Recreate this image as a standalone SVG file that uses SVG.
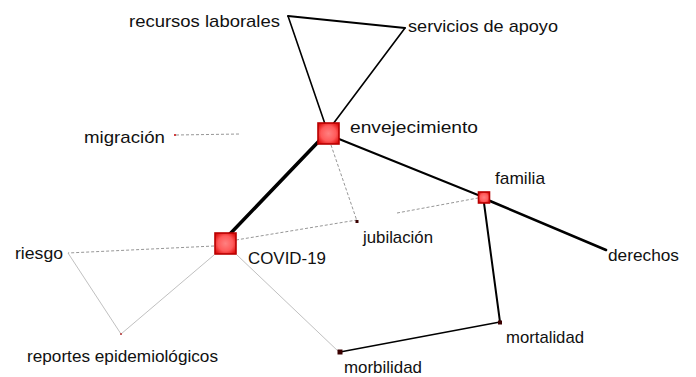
<svg xmlns="http://www.w3.org/2000/svg" width="696" height="377" viewBox="0 0 696 377">
<defs>
<radialGradient id="rg" cx="50%" cy="50%" r="60%">
<stop offset="0" stop-color="#ff8080"/>
<stop offset="0.6" stop-color="#ff5a5a"/>
<stop offset="1" stop-color="#e01010"/>
</radialGradient>
<style>
text{font-family:"Liberation Sans",Arial,sans-serif;font-size:17px;fill:#111}
.hub{fill:url(#rg);stroke:#b80000;stroke-width:1.6}
.dot{fill:#3a0000}
.e{fill:none;stroke:#000;stroke-linecap:round}
.f{fill:none;stroke:#8a8a8a;stroke-width:0.9;stroke-dasharray:3 2}
.f2{fill:none;stroke:#b0b0b0;stroke-width:0.8}
</style>
</defs>
<rect width="696" height="377" fill="#fff"/>
<g id="connectors">
<line class="e" x1="288" y1="16" x2="405" y2="28" stroke-width="1.8"/>
<line class="e" x1="288" y1="16" x2="325" y2="124" stroke-width="1.6"/>
<line class="e" x1="405" y1="28" x2="333" y2="124" stroke-width="1.6"/>
<line class="e" x1="228" y1="236" x2="320" y2="140" stroke-width="3.5"/>
<line class="e" x1="339" y1="139" x2="478" y2="195" stroke-width="2"/>
<line class="e" x1="490" y1="201" x2="606" y2="250" stroke-width="2.6"/>
<line class="e" x1="484" y1="203" x2="500" y2="322" stroke-width="2"/>
<line class="e" x1="500" y1="322" x2="340" y2="352" stroke-width="1.3"/>
<line class="f" x1="331" y1="145" x2="357" y2="221"/>
<line class="f" x1="236" y1="240" x2="357" y2="220"/>
<line class="f" x1="397" y1="213" x2="478" y2="198"/>
<line class="f" x1="214" y1="246" x2="68" y2="253" stroke-dasharray="8 3 2 3"/>
<line class="f2" x1="68" y1="253" x2="121" y2="334"/>
<line class="f2" x1="214" y1="255" x2="121" y2="334"/>
<line class="f2" x1="237" y1="255" x2="339" y2="352" stroke="#888"/>
<line class="f" x1="176" y1="135" x2="240" y2="134" stroke="#ececec"/>
</g>
<g id="n-recursos"><text x="129" y="27" textLength="151" lengthAdjust="spacingAndGlyphs">recursos laborales</text></g>
<g id="n-servicios"><text x="408" y="32" textLength="150" lengthAdjust="spacingAndGlyphs">servicios de apoyo</text></g>
<g id="n-envejecimiento"><rect class="hub" x="318" y="123" width="21" height="21"/><text x="350" y="133" textLength="128" lengthAdjust="spacingAndGlyphs">envejecimiento</text></g>
<g id="n-migracion"><rect x="174" y="134" width="2" height="2" fill="#d04040"/><text x="84" y="143" textLength="81" lengthAdjust="spacingAndGlyphs">migración</text></g>
<g id="n-covid"><rect class="hub" x="215" y="233" width="21" height="21"/><text x="248" y="264" textLength="78" lengthAdjust="spacingAndGlyphs">COVID-19</text></g>
<g id="n-familia"><rect class="hub" x="478.5" y="192" width="11" height="11"/><text x="495" y="184" textLength="50" lengthAdjust="spacingAndGlyphs">familia</text></g>
<g id="n-jubilacion"><rect class="dot" x="355.5" y="220" width="3" height="3"/><text x="363" y="243" textLength="70" lengthAdjust="spacingAndGlyphs">jubilación</text></g>
<g id="n-derechos"><text x="608" y="261" textLength="71" lengthAdjust="spacingAndGlyphs">derechos</text></g>
<g id="n-mortalidad"><rect class="dot" x="498" y="320.5" width="4" height="4"/><text x="506" y="343" textLength="78" lengthAdjust="spacingAndGlyphs">mortalidad</text></g>
<g id="n-morbilidad"><rect class="dot" x="337.5" y="349.5" width="5" height="5"/><text x="344" y="373" textLength="78" lengthAdjust="spacingAndGlyphs">morbilidad</text></g>
<g id="n-riesgo"><text x="15" y="259" textLength="48" lengthAdjust="spacingAndGlyphs">riesgo</text></g>
<g id="n-reportes"><rect x="120" y="333" width="2" height="2" fill="#c06060"/><text x="27" y="362" textLength="191" lengthAdjust="spacingAndGlyphs">reportes epidemiológicos</text></g>
</svg>
